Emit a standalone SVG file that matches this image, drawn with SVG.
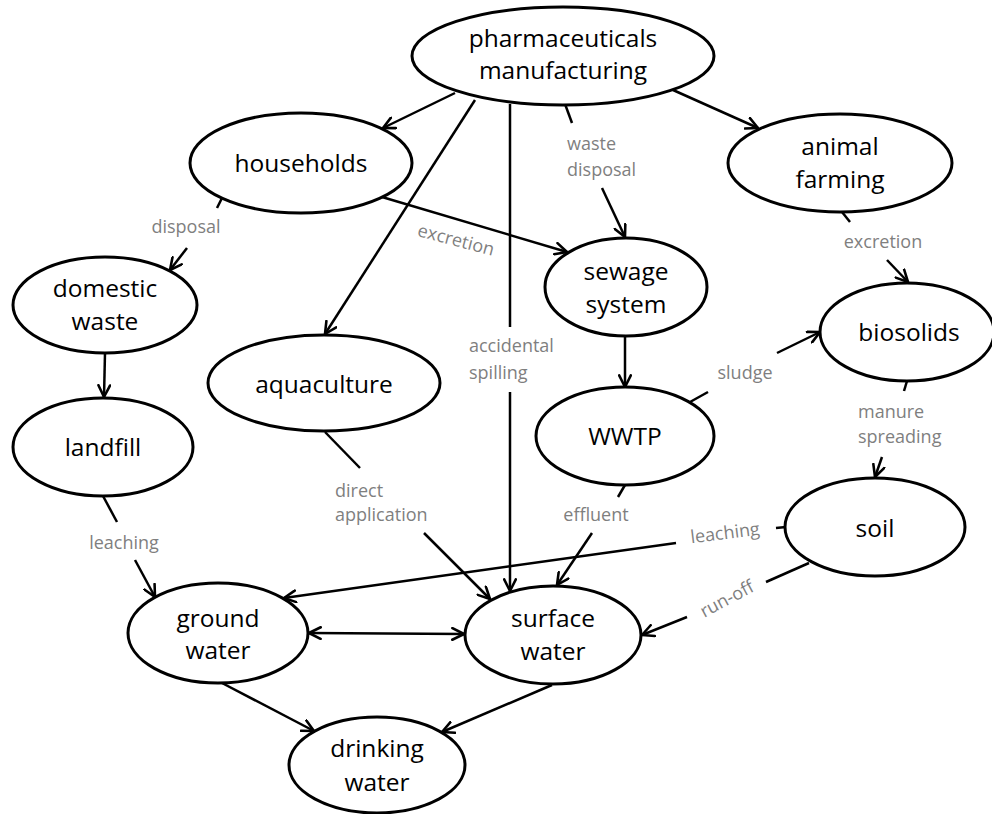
<svg xmlns="http://www.w3.org/2000/svg" width="992" height="814" viewBox="0 0 992 814">
<defs>
<marker id="arr" viewBox="0 0 12 12" refX="11" refY="6" markerWidth="14" markerHeight="14" markerUnits="userSpaceOnUse" orient="auto-start-reverse">
<path d="M1,1 L11,6 L1,11" fill="none" stroke="#000" stroke-width="2.2" stroke-linecap="round" stroke-linejoin="round"/>
</marker>
</defs>
<style>
.node ellipse{fill:#fff;stroke:#000;stroke-width:3}
.node text{font-family:"Open Sans","Liberation Sans",sans-serif;font-size:24.5px;fill:#000;text-anchor:middle}
.edge{fill:none;stroke:#000;stroke-width:2.5}
.arr{marker-end:url(#arr)}
.lbl{font-family:"Open Sans","Liberation Sans",sans-serif;font-size:18px;fill:#7f7f7f}
.mid{text-anchor:middle}
</style>
<rect width="992" height="814" fill="#fff"/>
<g id="connectors">
<line class="edge arr" x1="455" y1="93" x2="383" y2="128"/>
<line class="edge arr" x1="475" y1="100" x2="325" y2="334"/>
<line class="edge" x1="510" y1="104" x2="510" y2="327"/>
<line class="edge arr" x1="510" y1="392" x2="510" y2="591"/>
<line class="edge" x1="565" y1="104" x2="572" y2="123"/>
<line class="edge arr" x1="602" y1="188" x2="625" y2="237"/>
<line class="edge arr" x1="673" y1="90" x2="758" y2="128"/>
<line class="edge" x1="222" y1="198" x2="217" y2="208"/>
<line class="edge arr" x1="187" y1="248" x2="170" y2="270"/>
<line class="edge arr" x1="382" y1="197" x2="567" y2="252"/>
<line class="edge arr" x1="105" y1="353" x2="104" y2="397"/>
<line class="edge" x1="842" y1="212" x2="850" y2="222"/>
<line class="edge arr" x1="887" y1="260" x2="908" y2="282"/>
<line class="edge arr" x1="625" y1="336" x2="625" y2="387"/>
<line class="edge" x1="690" y1="402" x2="708" y2="392"/>
<line class="edge arr" x1="777" y1="353" x2="820" y2="332"/>
<line class="edge" x1="907" y1="381" x2="904" y2="391"/>
<line class="edge arr" x1="882" y1="457" x2="875" y2="477"/>
<line class="edge" x1="325" y1="432" x2="360" y2="468"/>
<line class="edge arr" x1="424" y1="533" x2="490" y2="599"/>
<line class="edge" x1="625" y1="485" x2="618" y2="497"/>
<line class="edge arr" x1="592" y1="533" x2="557" y2="585"/>
<line class="edge" x1="103" y1="496" x2="117" y2="522"/>
<line class="edge arr" x1="135" y1="560" x2="155" y2="597"/>
<line class="edge" x1="776" y1="528" x2="786" y2="527"/>
<line class="edge arr" x1="676" y1="543" x2="284" y2="598"/>
<line class="edge" x1="809" y1="563" x2="766" y2="582"/>
<line class="edge arr" x1="687" y1="617" x2="642" y2="635"/>
<line class="edge arr" x1="309" y1="633" x2="464" y2="634" marker-start="url(#arr)"/>
<line class="edge arr" x1="222" y1="683" x2="314" y2="731"/>
<line class="edge arr" x1="552" y1="685" x2="442" y2="732"/>
<text class="lbl" x="469" y="352">accidental</text>
<text class="lbl" x="469" y="379">spilling</text>
<text class="lbl" x="567" y="150">waste</text>
<text class="lbl" x="567" y="176">disposal</text>
<text class="lbl mid" x="186" y="233">disposal</text>
<text class="lbl mid" x="456" y="246" transform="rotate(15 456 240)">excretion</text>
<text class="lbl mid" x="883" y="248">excretion</text>
<text class="lbl mid" x="745" y="379">sludge</text>
<text class="lbl" x="858" y="418">manure</text>
<text class="lbl" x="858" y="443">spreading</text>
<text class="lbl" x="335" y="497">direct</text>
<text class="lbl" x="335" y="521">application</text>
<text class="lbl mid" x="596" y="521">effluent</text>
<text class="lbl mid" x="124" y="549">leaching</text>
<text class="lbl mid" x="725" y="539" transform="rotate(-7 725 533)">leaching</text>
<text class="lbl mid" x="727" y="605" transform="rotate(-28 727 599)">run-off</text>
</g>
<g id="pharma" class="node"><ellipse cx="563" cy="56" rx="151" ry="49"/><text x="563" y="47">pharmaceuticals</text><text x="563" y="79">manufacturing</text></g>
<g id="households" class="node"><ellipse cx="301" cy="163" rx="111" ry="50"/><text x="301" y="172">households</text></g>
<g id="animal-farming" class="node"><ellipse cx="840" cy="163" rx="112" ry="49"/><text x="840" y="155">animal</text><text x="840" y="188">farming</text></g>
<g id="domestic-waste" class="node"><ellipse cx="105" cy="305" rx="92" ry="48"/><text x="105" y="297">domestic</text><text x="105" y="330">waste</text></g>
<g id="sewage-system" class="node"><ellipse cx="626" cy="287" rx="81" ry="49"/><text x="626" y="280">sewage</text><text x="626" y="313">system</text></g>
<g id="biosolids" class="node"><ellipse cx="907" cy="332" rx="87" ry="49"/><text x="909" y="341">biosolids</text></g>
<g id="aquaculture" class="node"><ellipse cx="324" cy="383" rx="116" ry="48"/><text x="324" y="393">aquaculture</text></g>
<g id="wwtp" class="node"><ellipse cx="625" cy="436" rx="89" ry="49"/><text x="625" y="445">WWTP</text></g>
<g id="landfill" class="node"><ellipse cx="103" cy="447" rx="90" ry="49"/><text x="103" y="456">landfill</text></g>
<g id="soil" class="node"><ellipse cx="875" cy="527" rx="90" ry="49"/><text x="875" y="537">soil</text></g>
<g id="ground-water" class="node"><ellipse cx="218" cy="633" rx="90" ry="50"/><text x="218" y="627">ground</text><text x="218" y="659">water</text></g>
<g id="surface-water" class="node"><ellipse cx="553" cy="635" rx="88" ry="49"/><text x="553" y="627">surface</text><text x="553" y="660">water</text></g>
<g id="drinking-water" class="node"><ellipse cx="377" cy="765" rx="88" ry="48"/><text x="377" y="757">drinking</text><text x="377" y="791">water</text></g>
</svg>
